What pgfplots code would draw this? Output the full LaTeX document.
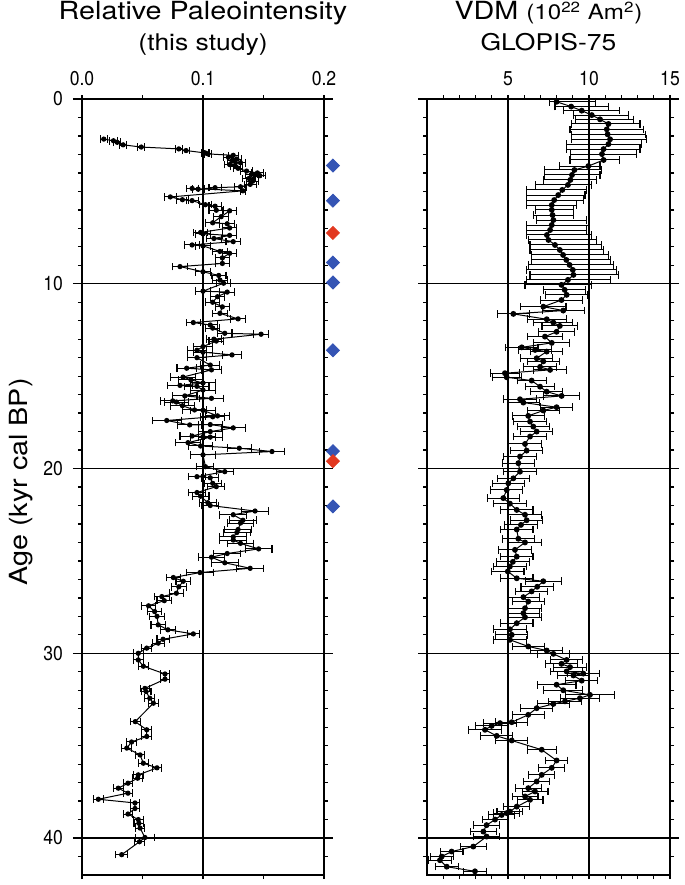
\documentclass[border=0pt]{standalone}
\usepackage{pgfplots}
\pgfplotsset{compat=1.18}
\usepackage{fontspec}
\setmainfont{TeX Gyre Heros}
\newfontfamily\titlefont{TeX Gyre Heros}[FakeStretch=1.15]
\newfontfamily\tickfont{TeX Gyre Heros}[FakeStretch=0.88]
\definecolor{dblue}{RGB}{52,84,180}
\definecolor{dred}{RGB}{226,56,32}

\pgfplotsset{
  panel/.style={
    scale only axis, height=388pt,
    ymin=0, ymax=42, y dir=reverse,
    clip=false,
    tick align=outside, major tick length=2pt, minor tick length=2pt,
    tick style={black, line width=0.65pt},
    axis line style={line width=0.65pt},
    xmajorgrids, major grid style={black, line width=0.65pt},
    minor ytick={1,...,41},
    xticklabel pos=upper,
    ticklabel style={font=\tickfont\fontsize{10}{12}\selectfont},
    /pgf/number format/assume math mode=true,
    xticklabel style={yshift=1pt},
    yticklabel style={xshift=-4pt},
  },
  rpi/.style={black, line width=0.5pt, mark=*, mark size=1.05pt,
    error bars/.cd, x dir=both, x explicit, error mark=|,
    error bar style={line width=0.5pt, black},
    error mark options={line width=0.55pt, mark size=1.9pt, black}},
}

\begin{document}
\begin{tikzpicture}
% ---- left: relative paleointensity
\begin{axis}[panel, at={(0pt,0pt)}, anchor=south west, width=121pt,
  xmin=0, xmax=0.2,
  xtick={0,0.1,0.2}, xticklabels={0.0,0.1,0.2}, minor xtick={0.05,0.15},
  ytick={0,10,20,30,40}, yticklabels={0,10,20,30,40},
]
\pgfplotsinvokeforeach{0,10,20,30,40}{
  \draw[line width=0.65pt] ([xshift=-4.5pt]axis cs:0,#1) -- ([xshift=4.5pt]axis cs:0.2,#1);}
\addplot[rpi] coordinates {
(0.018,2.17) +- (0.003,0) (0.026,2.26) +- (0.003,0) (0.029,2.34) +- (0.003,0)
(0.034,2.48) +- (0.003,0) (0.049,2.60) +- (0.003,0) (0.080,2.70) +- (0.003,0)
(0.086,2.79) +- (0.003,0) (0.102,2.92) +- (0.003,0) (0.104,2.97) +- (0.003,0)
(0.125,3.05) +- (0.004,0) (0.121,3.15) +- (0.004,0) (0.128,3.25) +- (0.004,0)
(0.124,3.35) +- (0.004,0) (0.131,3.45) +- (0.004,0) (0.122,3.55) +- (0.004,0)
(0.127,3.65) +- (0.004,0) (0.129,3.75) +- (0.004,0) (0.136,3.90) +- (0.005,0)
(0.145,4.00) +- (0.005,0) (0.140,4.08) +- (0.005,0) (0.147,4.15) +- (0.005,0)
(0.138,4.30) +- (0.005,0) (0.141,4.45) +- (0.005,0) (0.139,4.62) +- (0.005,0)
(0.131,4.75) +- (0.005,0) (0.110,4.80) +- (0.005,0) (0.096,4.88) +- (0.005,0)
(0.091,4.84) +- (0.005,0) (0.133,4.97) +- (0.002,0) (0.073,5.30) +- (0.005,0)
(0.083,5.45) +- (0.005,0) (0.091,5.50) +- (0.005,0) (0.102,5.72) +- (0.005,0)
(0.110,5.80) +- (0.005,0) (0.111,6.02) +- (0.006,0) (0.122,6.05) +- (0.006,0)
(0.115,6.37) +- (0.006,0) (0.108,6.70) +- (0.006,0) (0.120,6.75) +- (0.006,0)
(0.122,6.98) +- (0.006,0) (0.098,7.22) +- (0.006,0) (0.100,7.30) +- (0.006,0)
(0.122,7.38) +- (0.006,0) (0.109,7.55) +- (0.006,0) (0.125,7.72) +- (0.006,0)
(0.091,7.90) +- (0.006,0) (0.100,7.95) +- (0.006,0) (0.114,8.25) +- (0.006,0)
(0.122,8.35) +- (0.006,0) (0.116,8.60) +- (0.006,0) (0.116,8.90) +- (0.006,0)
(0.081,9.07) +- (0.006,0) (0.100,9.35) +- (0.006,0) (0.113,9.55) +- (0.006,0)
(0.114,9.80) +- (0.006,0) (0.117,9.97) +- (0.006,0) (0.100,10.40) +- (0.006,0)
(0.120,10.45) +- (0.006,0) (0.112,10.70) +- (0.006,0) (0.108,11.00) +- (0.006,0)
(0.116,11.25) +- (0.006,0) (0.114,11.60) +- (0.006,0) (0.129,11.90) +- (0.006,0)
(0.092,12.10) +- (0.006,0) (0.106,12.23) +- (0.006,0) (0.108,12.40) +- (0.006,0)
(0.118,12.68) +- (0.006,0) (0.148,12.73) +- (0.006,0) (0.109,13.00) +- (0.006,0)
(0.111,13.10) +- (0.006,0) (0.100,13.40) +- (0.008,0) (0.095,13.60) +- (0.008,0)
(0.100,13.70) +- (0.008,0) (0.124,13.85) +- (0.008,0) (0.095,14.00) +- (0.008,0)
(0.106,14.40) +- (0.008,0) (0.0865,14.57) +- (0.008,0) (0.107,14.66) +- (0.008,0)
(0.0835,15.05) +- (0.01,0) (0.090,15.20) +- (0.01,0) (0.100,15.37) +- (0.01,0)
(0.081,15.50) +- (0.01,0) (0.095,15.55) +- (0.01,0) (0.100,15.75) +- (0.01,0)
(0.085,16.07) +- (0.01,0) (0.107,16.20) +- (0.01,0) (0.075,16.34) +- (0.01,0)
(0.078,16.40) +- (0.01,0) (0.083,16.60) +- (0.01,0) (0.093,16.83) +- (0.01,0)
(0.100,16.85) +- (0.01,0) (0.112,17.15) +- (0.01,0) (0.108,17.20) +- (0.01,0)
(0.070,17.40) +- (0.012,0) (0.089,17.64) +- (0.01,0) (0.106,17.62) +- (0.01,0)
(0.125,17.80) +- (0.01,0) (0.106,18.00) +- (0.01,0) (0.091,18.24) +- (0.01,0)
(0.100,18.28) +- (0.01,0) (0.106,18.30) +- (0.01,0) (0.0876,18.60) +- (0.01,0)
(0.098,18.78) +- (0.01,0) (0.130,18.90) +- (0.01,0) (0.157,19.08) +- (0.01,0)
(0.100,19.26) +- (0.01,0) (0.102,19.90) +- (0.007,0) (0.118,20.17) +- (0.007,0)
(0.095,20.44) +- (0.007,0) (0.106,20.50) +- (0.007,0) (0.108,20.80) +- (0.007,0)
(0.111,20.98) +- (0.007,0) (0.095,21.30) +- (0.007,0) (0.098,21.50) +- (0.007,0)
(0.104,21.85) +- (0.007,0) (0.106,22.00) +- (0.007,0) (0.143,22.30) +- (0.011,0)
(0.125,22.50) +- (0.011,0) (0.133,22.80) +- (0.011,0) (0.131,22.95) +- (0.011,0)
(0.129,23.30) +- (0.011,0) (0.128,23.46) +- (0.011,0) (0.125,23.70) +- (0.011,0)
(0.125,23.87) +- (0.011,0) (0.131,24.05) +- (0.011,0) (0.146,24.35) +- (0.011,0)
(0.120,24.60) +- (0.011,0) (0.107,24.80) +- (0.011,0) (0.118,25.10) +- (0.011,0)
(0.139,25.40) +- (0.011,0) (0.0975,25.63) +- (0.011,0) (0.0755,25.90) +- (0.006,0)
(0.0837,26.10) +- (0.006,0) (0.080,26.40) +- (0.006,0) (0.078,26.75) +- (0.006,0)
(0.066,26.93) +- (0.006,0) (0.068,27.15) +- (0.006,0) (0.055,27.43) +- (0.006,0)
(0.060,27.74) +- (0.006,0) (0.062,28.00) +- (0.006,0) (0.063,28.46) +- (0.006,0)
(0.071,28.73) +- (0.006,0) (0.092,28.95) +- (0.005,0) (0.067,29.24) +- (0.005,0)
(0.063,29.45) +- (0.005,0) (0.0535,29.72) +- (0.004,0) (0.0465,30.00) +- (0.004,0)
(0.0465,30.36) +- (0.004,0) (0.0507,30.70) +- (0.004,0) (0.0686,31.12) +- (0.004,0)
(0.0686,31.40) +- (0.004,0) (0.052,31.90) +- (0.004,0) (0.053,32.07) +- (0.004,0)
(0.056,32.43) +- (0.004,0) (0.059,32.70) +- (0.004,0) (0.044,33.70) +- (0.004,0)
(0.0535,34.14) +- (0.004,0) (0.0535,34.50) +- (0.004,0) (0.041,34.80) +- (0.004,0)
(0.037,35.13) +- (0.004,0) (0.048,35.50) +- (0.004,0) (0.0507,35.95) +- (0.004,0)
(0.062,36.20) +- (0.004,0) (0.0465,36.58) +- (0.004,0) (0.046,36.76) +- (0.004,0)
(0.038,37.03) +- (0.004,0) (0.030,37.30) +- (0.004,0) (0.038,37.57) +- (0.004,0)
(0.0135,37.90) +- (0.004,0) (0.0438,38.10) +- (0.004,0) (0.0438,38.40) +- (0.004,0)
(0.038,38.70) +- (0.004,0) (0.0465,39.00) +- (0.004,0) (0.047,39.20) +- (0.004,0)
(0.048,39.46) +- (0.004,0) (0.052,39.97) +- (0.008,0) (0.0475,40.20) +- (0.004,0)
(0.0328,40.90) +- (0.005,0)
};
\addplot[only marks, mark=square*, mark size=2.3pt, mark options={rotate=45, fill=dblue, draw=dblue}]
  coordinates {(0.2074,3.6) (0.2074,5.5) (0.2074,8.85) (0.2074,9.93) (0.2074,13.6) (0.2074,19.06) (0.2074,22.05)};
\addplot[only marks, mark=square*, mark size=2.3pt, mark options={rotate=45, fill=dred, draw=dred}]
  coordinates {(0.2074,7.25) (0.2074,19.6)};
\end{axis}

% ---- right: GLOPIS-75 VDM
\begin{axis}[panel, at={(172.5pt,0pt)}, anchor=south west, width=121.5pt,
  xmin=0, xmax=15,
  xtick={5,10,15}, xticklabels={5,10,15}, minor xtick={1,2,3,4,6,7,8,9,11,12,13,14},
  ytick={10,20,30,40}, yticklabels={},
]
\pgfplotsinvokeforeach{0,10,20,30,40}{
  \draw[line width=0.65pt] ([xshift=-4.5pt]axis cs:0,#1) -- ([xshift=4.5pt]axis cs:15,#1);}
\addplot[rpi, /tikz/mark size=1.2pt] coordinates {
(8.0,0.15) += (2.41,0) -= (0.45,0) (8.9,0.41) += (2.33,0) -= (1.0,0)
(9.55,0.63) += (2.36,0) -= (1.13,0) (10.17,0.87) += (2.26,0) -= (1.14,0)
(10.68,1.1) += (2.06,0) -= (1.5,0) (11.2,1.35) += (1.95,0) -= (2.27,0)
(11.1,1.64) += (2.25,0) -= (2.27,0) (11.15,1.91) += (2.31,0) -= (2.22,0)
(11.3,2.18) += (2.26,0) -= (2.37,0) (11.2,2.44) += (2.05,0) -= (2.58,0)
(10.9,2.71) += (2.25,0) -= (2.28,0) (10.8,2.98) += (2.14,0) -= (1.93,0)
(10.9,3.3) += (1.01,0) -= (2.07,0) (9.96,3.63) += (0.72,0) -= (1.79,0)
(9.1,3.84) += (1.68,0) -= (1.82,0) (8.95,4.11) += (1.73,0) -= (1.67,0)
(8.85,4.38) += (1.62,0) -= (1.67,0) (8.7,4.65) += (1.46,0) -= (2.03,0)
(8.35,4.92) += (1.51,0) -= (2.2,0) (8.1,5.2) += (1.65,0) -= (1.95,0)
(7.85,5.47) += (1.8,0) -= (1.7,0) (7.7,5.74) += (1.54,0) -= (1.55,0)
(7.7,6.0) += (1.33,0) -= (1.03,0) (7.75,6.28) += (1.28,0) -= (1.19,0)
(7.8,6.55) += (2.06,0) -= (1.03,0) (7.7,6.82) += (2.26,0) -= (1.55,0)
(7.6,7.09) += (2.26,0) -= (1.45,0) (7.4,7.36) += (2.76,0) -= (1.25,0)
(7.5,7.63) += (2.97,0) -= (1.25,0) (7.9,7.9) += (2.88,0) -= (1.54,0)
(8.2,8.17) += (2.68,0) -= (1.84,0) (8.4,8.44) += (2.79,0) -= (1.94,0)
(8.6,8.71) += (2.7,0) -= (2.14,0) (8.8,8.98) += (2.7,0) -= (2.55,0)
(9.0,9.25) += (2.7,0) -= (2.85,0) (9.04,9.52) += (2.76,0) -= (2.68,0)
(8.7,9.79) += (2.6,0) -= (2.55,0) (8.3,10.06) += (1.86,0) -= (2.25,0)
(8.5,10.33) +- (1.3,0) (8.62,10.6) +- (1.3,0) (8.3,10.88) +- (1.3,0)
(7.18,11.24) +- (1.4,0) (8.41,11.45) +- (1.3,0) (5.33,11.63) +- (1.0,0)
(7.39,11.92) +- (1.2,0) (7.8,12.1) +- (1.2,0) (8.2,12.28) +- (1.1,0)
(8.0,12.6) +- (1.1,0) (7.28,12.86) +- (1.1,0) (7.7,13.2) +- (1.1,0)
(5.85,13.44) +- (1.0,0) (6.67,13.58) +- (1.0,0) (7.39,13.67) +- (1.0,0)
(6.77,14.03) +- (1.0,0) (7.18,14.2) +- (1.0,0) (6.98,14.5) +- (1.0,0)
(7.6,14.66) +- (1.0,0) (4.81,14.84) +- (0.9,0) (4.92,15.06) +- (0.9,0)
(6.46,15.24) +- (0.9,0) (6.98,15.57) +- (0.9,0) (7.39,15.84) +- (1.0,0)
(8.31,16.07) +- (1.1,0) (5.74,16.25) +- (1.0,0) (5.95,16.43) +- (1.0,0)
(8.0,16.68) +- (1.0,0) (7.18,16.86) +- (1.0,0) (6.25,17.15) +- (1.0,0)
(6.36,17.46) +- (1.0,0) (6.56,17.73) +- (1.0,0) (6.77,18.0) +- (1.0,0)
(6.36,18.27) +- (1.0,0) (6.05,18.67) +- (1.0,0) (6.15,19.03) +- (1.0,0)
(5.74,19.35) +- (1.0,0) (5.64,19.71) +- (1.0,0) (5.74,20.17) +- (1.0,0)
(5.33,20.53) +- (1.0,0) (5.02,20.8) +- (1.0,0) (4.92,21.16) +- (1.0,0)
(4.71,21.6) +- (1.0,0) (5.12,21.9) +- (1.0,0) (5.54,22.24) +- (1.0,0)
(6.05,22.5) +- (1.0,0) (6.15,22.8) +- (1.0,0) (5.8,23.05) +- (1.0,0)
(5.54,23.3) +- (1.0,0) (5.64,23.8) +- (1.0,0) (6.05,24.0) +- (1.0,0)
(5.43,24.4) +- (1.0,0) (5.54,24.77) +- (1.0,0) (5.3,25.05) +- (1.0,0)
(5.12,25.3) +- (1.0,0) (4.99,25.57) +- (1.0,0) (5.54,25.94) +- (1.0,0)
(7.18,26.1) +- (1.1,0) (6.8,26.4) +- (1.0,0) (6.46,26.65) +- (1.0,0)
(5.95,26.96) +- (1.0,0) (6.25,27.2) +- (1.0,0) (6.05,27.56) +- (1.0,0)
(5.95,27.83) +- (1.0,0) (6.05,28.05) +- (1.0,0) (5.54,28.37) +- (1.0,0)
(5.12,28.7) +- (1.0,0) (5.23,29.0) +- (1.0,0) (5.12,29.27) +- (1.0,0)
(6.25,29.63) +- (1.0,0) (7.39,29.85) +- (1.0,0) (7.8,30.03) +- (1.0,0)
(8.62,30.36) +- (1.0,0) (8.3,30.57) +- (1.0,0) (8.83,30.75) +- (1.0,0)
(8.62,30.98) +- (1.0,0) (9.65,31.1) +- (1.0,0) (9.04,31.2) +- (1.0,0)
(9.55,31.48) +- (1.0,0) (8.0,31.7) +- (1.2,0) (8.41,32.0) +- (1.2,0)
(10.06,32.25) +- (1.5,0) (9.44,32.43) +- (1.2,0) (8.52,32.6) +- (1.0,0)
(7.8,32.74) +- (1.0,0) (6.77,32.97) +- (1.0,0) (6.25,33.33) +- (1.0,0)
(5.23,33.73) +- (1.0,0) (4.51,33.78) +- (1.0,0) (3.99,33.93) +- (1.0,0)
(3.58,34.14) +- (1.0,0) (4.3,34.47) +- (1.0,0) (5.23,34.72) +- (1.0,0)
(7.08,35.22) +- (0.9,0) (8.0,35.8) +- (0.7,0) (7.7,36.2) +- (0.8,0)
(7.08,36.58) +- (0.8,0) (6.77,36.94) +- (0.8,0) (6.25,37.3) +- (0.8,0)
(6.67,37.48) +- (0.8,0) (6.05,37.75) +- (0.8,0) (6.36,37.93) +- (0.8,0)
(5.54,38.3) +- (0.8,0) (5.12,38.57) +- (0.8,0) (4.92,38.65) +- (0.8,0)
(4.61,38.75) +- (0.8,0) (4.2,39.0) +- (0.8,0) (3.68,39.3) +- (0.8,0)
(3.48,39.65) +- (0.8,0) (3.68,39.92) +- (0.8,0) (2.86,40.46) +- (0.8,0)
(1.52,40.73) +- (0.7,0) (0.91,41.0) +- (0.7,0) (0.8,41.2) +- (0.7,0)
(1.22,41.55) +- (0.7,0) (2.96,41.8) +- (0.7,0)
};
\end{axis}

% ---- titles and y label
\node[anchor=base, font=\titlefont\fontsize{12.5}{15}\selectfont] at (60.5pt,427.5pt) {Relative Paleointensity};
\node[anchor=base, font=\titlefont\fontsize{11.5}{14}\selectfont] at (60.5pt,412pt) {(this study)};
\node[anchor=base, font=\titlefont\fontsize{12.5}{15}\selectfont] at (233.25pt,427.5pt)
  {VDM {\fontsize{10.5}{12}\selectfont(10\textsuperscript{22} Am\textsuperscript{2})}};
\node[anchor=base, font=\titlefont\fontsize{11.5}{14}\selectfont] at (233.25pt,412pt) {GLOPIS-75};
\node[anchor=base, rotate=90, font=\titlefont\fontsize{12.5}{15}\selectfont] at (-27.5pt,196.5pt) {Age (kyr cal BP)};

\pgfresetboundingbox
\path[use as bounding box] (-41pt,-5pt) rectangle (301.5pt,437.5pt);
\end{tikzpicture}
\end{document}
